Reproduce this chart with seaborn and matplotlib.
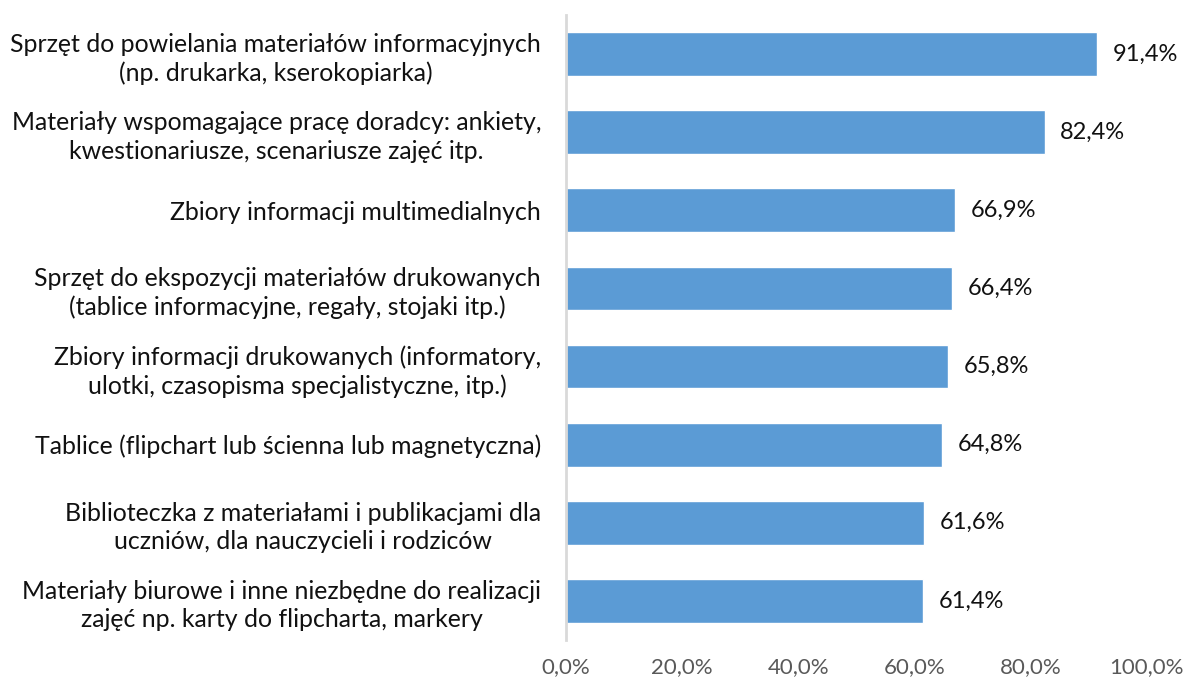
import matplotlib
matplotlib.use("Agg")
import matplotlib.pyplot as plt
import seaborn as sns
import pandas as pd

categories = [
    "Sprzęt do powielania materiałów informacyjnych\n(np. drukarka, kserokopiarka)",
    "Materiały wspomagające pracę doradcy: ankiety,\nkwestionariusze, scenariusze zajęć itp.",
    "Zbiory informacji multimedialnych",
    "Sprzęt do ekspozycji materiałów drukowanych\n(tablice informacyjne, regały, stojaki itp.)",
    "Zbiory informacji drukowanych (informatory,\nulotki, czasopisma specjalistyczne, itp.)",
    "Tablice (flipchart lub ścienna lub magnetyczna)",
    "Biblioteczka z materiałami i publikacjami dla\nuczniów, dla nauczycieli i rodziców",
    "Materiały biurowe i inne niezbędne do realizacji\nzajęć np. karty do flipcharta, markery",
]
values = [91.4, 82.4, 66.9, 66.4, 65.8, 64.8, 61.6, 61.4]
x_ticks = [0, 20, 40, 60, 80, 100]

df = pd.DataFrame({"kategoria": categories, "udzial": values})

sns.set_theme(style="white")
plt.rcParams["font.family"] = ["Lato", "DejaVu Sans"]

fig = plt.figure(figsize=(11.86, 6.82), dpi=100)
ax = fig.add_axes([0.4773, 0.0616, 0.967 - 0.4773, 0.978 - 0.0616])

sns.barplot(data=df, x="udzial", y="kategoria", orient="h", color="#5B9BD5",
            saturation=1, width=0.56, ax=ax)

ax.set_xlim(0, 100)
ax.set_ylim(len(categories) - 0.5, -0.5)
ax.set_xlabel("")
ax.set_ylabel("")

ax.set_xticks(x_ticks)
ax.set_xticklabels([f"{t:.1f}%".replace(".", ",") for t in x_ticks],
                   color="#595959", fontsize=16)
ax.tick_params(axis="x", length=0, pad=12)
ax.tick_params(axis="y", length=0, pad=18)
for lbl in ax.get_yticklabels():
    lbl.set_fontsize(17.9)
    lbl.set_color("#111111")
    lbl.set_multialignment("center")
    lbl.set_linespacing(1.28)

for s in ["top", "right", "bottom"]:
    ax.spines[s].set_visible(False)
ax.spines["left"].set_color("#d9d9d9")
ax.spines["left"].set_linewidth(2)

for i, v in enumerate(values):
    ax.text(v + 2.7, i, f"{v:.1f}%".replace(".", ","), va="center", ha="left",
            fontsize=17, color="#111111")

fig.savefig("out.png", dpi=100)
